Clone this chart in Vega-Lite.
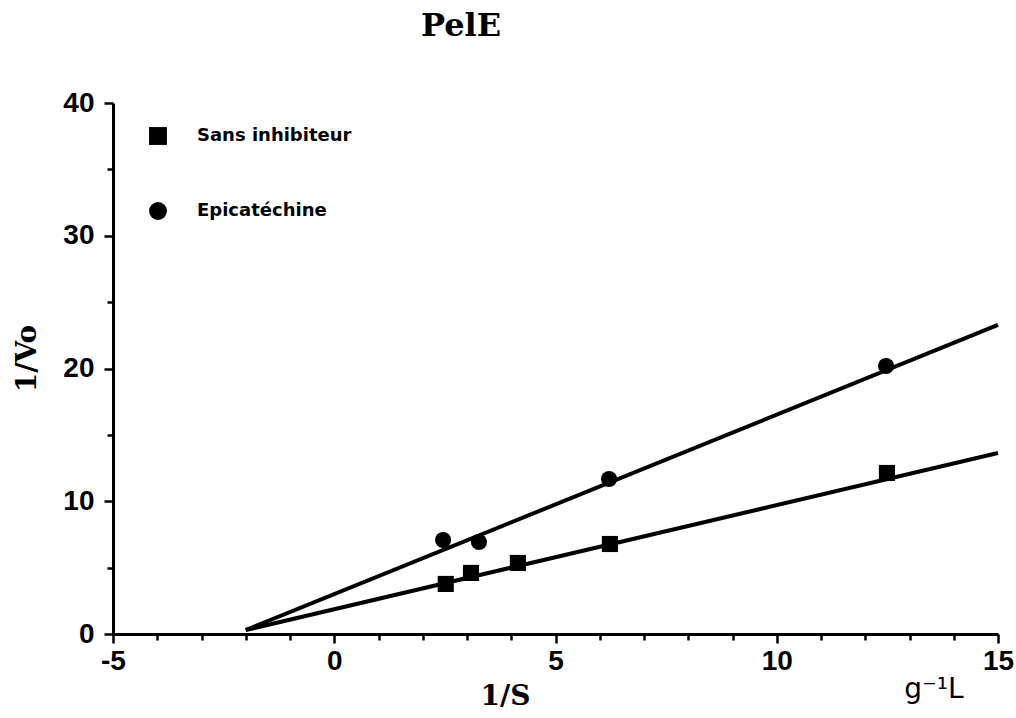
{
  "$schema": "https://vega.github.io/schema/vega-lite/v6.json",
  "width": 885,
  "height": 531,
  "autosize": "none",
  "padding": {"left": 113, "top": 103, "right": 18, "bottom": 84},
  "background": "white",
  "title": {
    "text": "PelE",
    "font": "DejaVu Serif",
    "fontWeight": "bold",
    "fontSize": 32,
    "color": "black",
    "anchor": "start",
    "dx": 408,
    "offset": 46
  },
  "datasets": {
    "lines": [
      {"series": "Sans inhibiteur", "x": -2, "y": 0.3},
      {"series": "Sans inhibiteur", "x": 15, "y": 13.63},
      {"series": "Epicatéchine", "x": -2, "y": 0.3},
      {"series": "Epicatéchine", "x": 15, "y": 23.28}
    ],
    "points": [
      {"series": "Sans inhibiteur", "x": 2.52, "y": 3.77},
      {"series": "Sans inhibiteur", "x": 3.09, "y": 4.6},
      {"series": "Sans inhibiteur", "x": 4.15, "y": 5.35},
      {"series": "Sans inhibiteur", "x": 6.23, "y": 6.78},
      {"series": "Sans inhibiteur", "x": 12.49, "y": 12.13},
      {"series": "Epicatéchine", "x": 2.46, "y": 7.08},
      {"series": "Epicatéchine", "x": 3.27, "y": 6.93},
      {"series": "Epicatéchine", "x": 6.21, "y": 11.68},
      {"series": "Epicatéchine", "x": 12.47, "y": 20.19}
    ],
    "unit": [
      {"label": "g⁻¹L", "x": 13.55, "y": -4.2}
    ]
  },
  "config": {
    "view": {"stroke": null},
    "axis": {
      "domainColor": "black",
      "domainWidth": 3,
      "tickColor": "black",
      "tickWidth": 2.5,
      "grid": false,
      "labelFont": "Liberation Sans",
      "labelFontWeight": "bold",
      "labelFontSize": 28,
      "labelColor": "black",
      "titleFont": "DejaVu Serif",
      "titleFontWeight": "bold",
      "titleFontSize": 28,
      "titleColor": "black",
      "labelOverlap": false,
      "labelBound": false,
      "labelFlush": false
    }
  },
  "layer": [
    {
      "data": {"name": "lines"},
      "mark": {"type": "line", "color": "black", "strokeWidth": 4},
      "encoding": {
        "x": {
          "field": "x",
          "type": "quantitative",
          "scale": {"domain": [-5, 15], "nice": false, "zero": false},
          "axis": {
            "values": [-5, -4, -3, -2, -1, 0, 1, 2, 3, 4, 5, 6, 7, 8, 9, 10, 11, 12, 13, 14, 15],
            "labelExpr": "datum.value % 5 === 0 ? replace(datum.label, '−', '-') : ''",
            "tickSize": {"condition": {"test": "datum.value % 5 === 0", "value": 9}, "value": 6},
            "labelPadding": 4,
            "title": "1/S",
            "titleX": 392,
            "titleY": 70,
            "titleAnchor": "middle",
            "titleBaseline": "alphabetic"
          }
        },
        "y": {
          "field": "y",
          "type": "quantitative",
          "scale": {"domain": [0, 40], "nice": false},
          "axis": {
            "values": [0, 5, 10, 15, 20, 25, 30, 35, 40],
            "labelExpr": "datum.value % 10 === 0 ? datum.label : ''",
            "tickSize": {"condition": {"test": "datum.value % 10 === 0", "value": 9}, "value": 6},
            "labelPadding": 10,
            "title": "1/Vo",
            "titleX": -86,
            "titleY": 255,
            "titleAnchor": "middle",
            "titleBaseline": "middle"
          }
        },
        "detail": {"field": "series"}
      }
    },
    {
      "data": {"name": "points"},
      "mark": {"type": "point", "filled": true, "opacity": 1, "size": 260, "color": "black"},
      "encoding": {
        "x": {"field": "x", "type": "quantitative"},
        "y": {"field": "y", "type": "quantitative"},
        "shape": {
          "field": "series",
          "type": "nominal",
          "scale": {"domain": ["Sans inhibiteur", "Epicatéchine"], "range": ["square", "circle"]},
          "legend": {
            "title": null,
            "orient": "none",
            "legendX": 36,
            "legendY": 24,
            "padding": 0,
            "symbolSize": 320,
            "symbolFillColor": "black",
            "symbolStrokeColor": "black",
            "symbolStrokeWidth": 0,
            "symbolOpacity": 1,
            "labelFont": "DejaVu Sans",
            "labelFontWeight": "bold",
            "labelFontSize": 18,
            "labelColor": "black",
            "labelOffset": 30,
            "rowPadding": 57
          }
        }
      }
    },
    {
      "data": {"name": "unit"},
      "mark": {"type": "text", "font": "DejaVu Sans", "fontSize": 28, "color": "black", "align": "center", "baseline": "middle"},
      "encoding": {
        "x": {"field": "x", "type": "quantitative"},
        "y": {"field": "y", "type": "quantitative"},
        "text": {"field": "label"}
      }
    }
  ]
}
